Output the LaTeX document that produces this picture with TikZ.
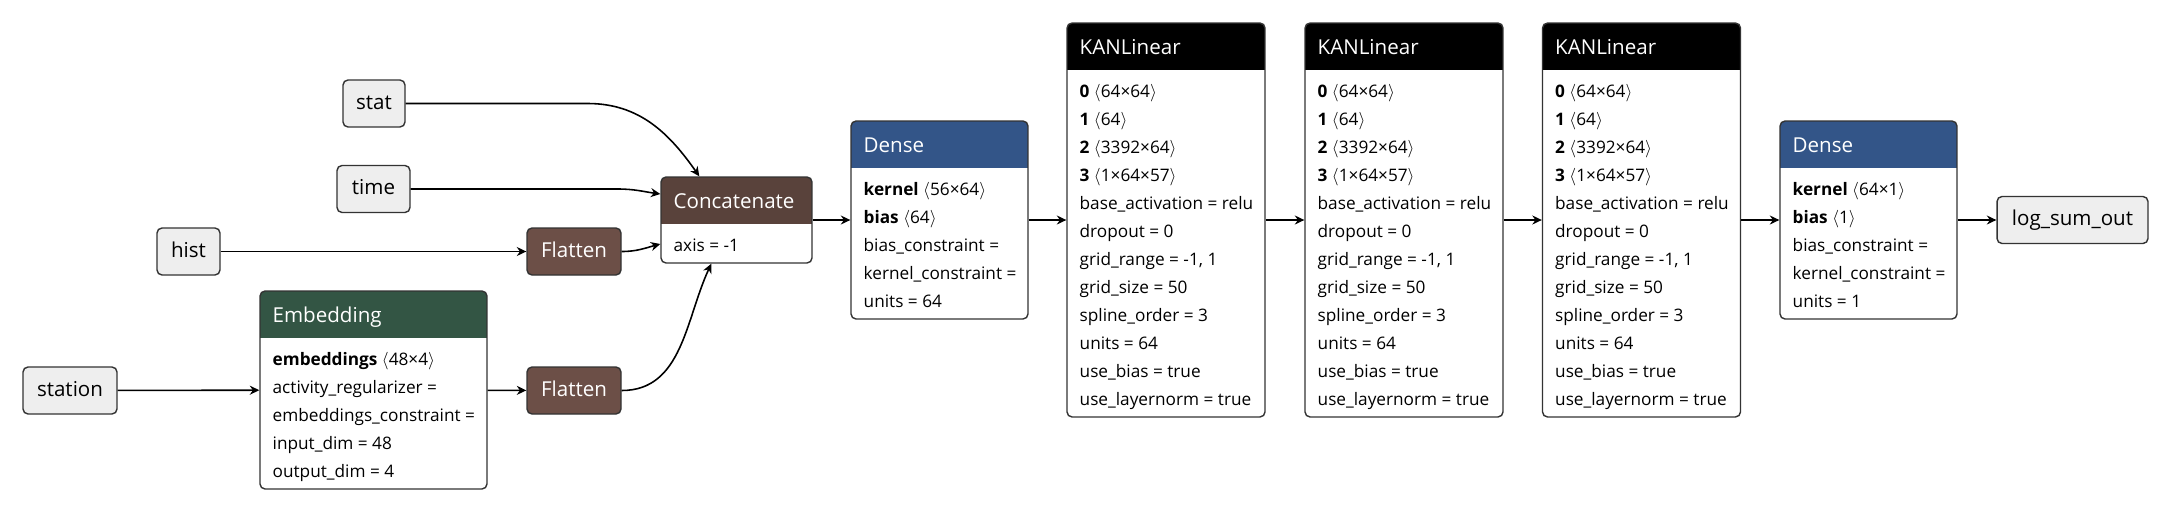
\documentclass[tikz,border=0pt]{standalone}
\usepackage{fontspec}
\setmainfont{Open Sans}
\usepackage{tikz}
\usetikzlibrary{arrows.meta,positioning}

\definecolor{densec}{HTML}{335588}
\definecolor{embc}{HTML}{335544}
\definecolor{concatc}{HTML}{59423B}
\definecolor{flatc}{HTML}{6C4F47}
\definecolor{ioc}{HTML}{EEEEEE}
\definecolor{linec}{HTML}{333333}

\newcommand\hfont{\fontsize{11.7pt}{14pt}\selectfont}
\newcommand\bfont{\fontsize{9.8pt}{15.94pt}\selectfont}
\newcommand\dims[1]{$\langle$#1$\rangle$}
\newcommand\kanattrs{\strut\textbf{0} \dims{64×64}\\\textbf{1} \dims{64}\\\textbf{2} \dims{3392×64}\\\textbf{3} \dims{1×64×57}\\
  base\_activation = relu\\dropout = 0\\grid\_range = -1, 1\\grid\_size = 50\\spline\_order = 3\\units = 64\\use\_bias = true\\use\_layernorm = true}

\tikzset{
  io/.style={draw=linec,line width=0.8pt,rounded corners=0.1cm,fill=ioc,font=\hfont,minimum height=0.94cm,inner sep=0pt,text height=8.6pt,text depth=2pt},
  flat/.style={io,fill=flatc,text=white},
  layer/.style={draw=linec,line width=0.8pt,rounded corners=0.1cm,fill=white,inner sep=0pt,
    path picture={\fill[#1,sharp corners] (path picture bounding box.north west) rectangle ([yshift=-0.94cm]path picture bounding box.north east);}},
  hdr/.style={font=\hfont,text=white,inner sep=0pt,anchor=base west},
  attrs/.style={font=\bfont,align=left,inner sep=0pt,anchor=north west},
  flow/.style={->,line width=0.9pt}
}

\begin{document}
\begin{tikzpicture}[x=0.02cm,y=-0.02cm,>={Stealth[length=0.19cm,width=0.18cm]}]
  \useasboundingbox (0,0) rectangle (2172,514);

  % inputs
  \node[io,minimum width=1.24cm] (stat) at (374,103.5) {stat};
  \node[io,minimum width=1.46cm] (time) at (373.5,189) {time};
  \node[io,minimum width=1.26cm] (hist) at (188.5,251.5) {hist};
  \node[io,minimum width=1.88cm] (station) at (70,390.5) {station};

  % embedding branch
  \node[layer=embc,minimum width=4.54cm,minimum height=3.96cm] (emb) at (373.5,390) {};
  \node[hdr] (emb-t) at ([shift={(13,32)}]emb.north west) {Embedding};
  \node[attrs] (emb-a) at ([shift={(13,55)}]emb.north west) {\strut\textbf{embeddings} \dims{48×4}\\activity\_regularizer =\\embeddings\_constraint =\\input\_dim = 48\\output\_dim = 4};

  \node[flat,minimum width=1.88cm] (flat1) at (574,251.5) {Flatten};
  \node[flat,minimum width=1.88cm] (flat2) at (574,390.5) {Flatten};

  \node[layer=concatc,minimum width=3.02cm,minimum height=1.72cm] (concat) at (736.5,220) {};
  \node[hdr] (concat-t) at ([shift={(13,32)}]concat.north west) {Concatenate};
  \node[attrs] (concat-a) at ([shift={(13,55)}]concat.north west) {\strut axis = -1};

  % dense + kan stack
  \node[layer=densec,minimum width=3.54cm,minimum height=3.96cm] (dense1) at (939.5,220) {};
  \node[hdr] (dense1-t) at ([shift={(13,32)}]dense1.north west) {Dense};
  \node[attrs] (dense1-a) at ([shift={(13,55)}]dense1.north west) {\strut\textbf{kernel} \dims{56×64}\\\textbf{bias} \dims{64}\\bias\_constraint =\\kernel\_constraint =\\units = 64};

  \node[layer=black,minimum width=3.96cm,minimum height=7.88cm] (kan1) at (1166,220) {};
  \node[hdr] (kan1-t) at ([shift={(13,32)}]kan1.north west) {KANLinear};
  \node[attrs] (kan1-a) at ([shift={(13,55)}]kan1.north west) {\kanattrs};

  \node[layer=black,minimum width=3.96cm,minimum height=7.88cm] (kan2) at (1404,220) {};
  \node[hdr] (kan2-t) at ([shift={(13,32)}]kan2.north west) {KANLinear};
  \node[attrs] (kan2-a) at ([shift={(13,55)}]kan2.north west) {\kanattrs};

  \node[layer=black,minimum width=3.96cm,minimum height=7.88cm] (kan3) at (1641.5,220) {};
  \node[hdr] (kan3-t) at ([shift={(13,32)}]kan3.north west) {KANLinear};
  \node[attrs] (kan3-a) at ([shift={(13,55)}]kan3.north west) {\kanattrs};

  \node[layer=densec,minimum width=3.54cm,minimum height=3.96cm] (dense2) at (1868.5,220) {};
  \node[hdr] (dense2-t) at ([shift={(13,32)}]dense2.north west) {Dense};
  \node[attrs] (dense2-a) at ([shift={(13,55)}]dense2.north west) {\strut\textbf{kernel} \dims{64×1}\\\textbf{bias} \dims{1}\\bias\_constraint =\\kernel\_constraint =\\units = 1};

  \node[io,minimum width=3.02cm] (out) at (2072.5,220) {log\_sum\_out};

  % connections
  \draw[flow] (hist) -- (flat1);
  \draw[flow] (station) -- (emb);
  \draw[flow] (emb) -- (flat2);
  \draw[flow] (stat.east) -- ++(182,0) to[out=0,in=125] ([xshift=0.78cm]concat.north west);
  \draw[flow] (time.east) -- ++(207,0) to[out=0,in=172] ([yshift=0.52cm]concat.west);
  \draw[flow] (flat1.east) to[out=0,in=195] ([yshift=-0.48cm]concat.west);
  \draw[flow] (flat2.east) to[out=0,in=-115] ([xshift=1.02cm]concat.south west);
  \draw[flow] (concat) -- (dense1);
  \draw[flow] (dense1) -- (kan1);
  \draw[flow] (kan1) -- (kan2);
  \draw[flow] (kan2) -- (kan3);
  \draw[flow] (kan3) -- (dense2);
  \draw[flow] (dense2) -- (out);
\end{tikzpicture}
\end{document}
